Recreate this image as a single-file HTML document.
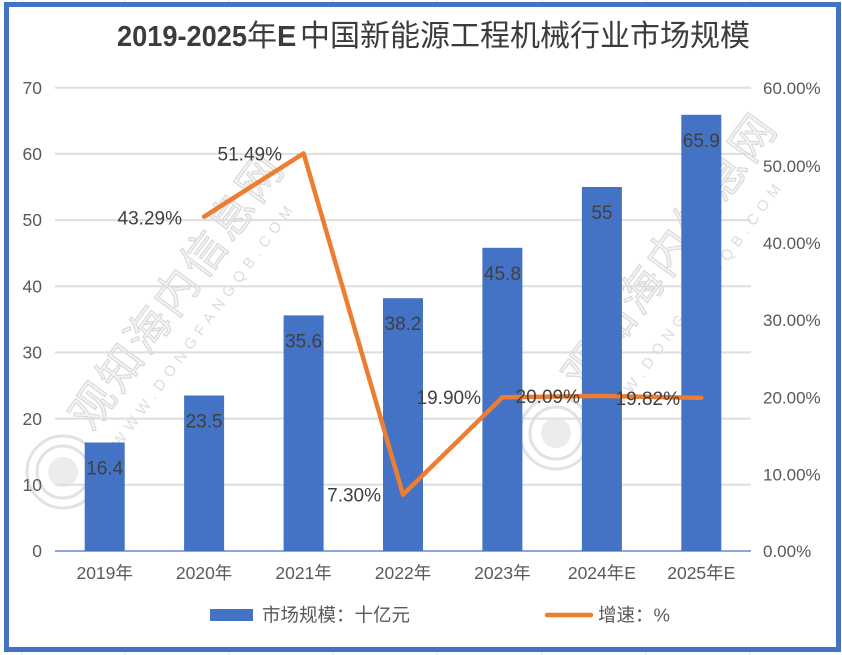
<!DOCTYPE html>
<html>
<head>
<meta charset="utf-8">
<style>
  html,body{margin:0;padding:0;background:#fff;}
  svg{display:block;}
  text{font-family:"Liberation Sans","Noto Sans CJK SC",sans-serif;}
</style>
</head>
<body>
<svg width="842" height="655" viewBox="0 0 842 655" xmlns="http://www.w3.org/2000/svg">
  <rect x="0" y="0" width="842" height="655" fill="#fff"/>
  <!-- faint spreadsheet gridlines outside border -->
  <g stroke="#e3e3e3" stroke-width="1">
    <line x1="22" y1="0" x2="22" y2="3"/><line x1="125" y1="0" x2="125" y2="3"/>
    <line x1="229" y1="0" x2="229" y2="3"/><line x1="333" y1="0" x2="333" y2="3"/>
    <line x1="437" y1="0" x2="437" y2="3"/><line x1="542" y1="0" x2="542" y2="3"/>
    <line x1="646" y1="0" x2="646" y2="3"/><line x1="750" y1="0" x2="750" y2="3"/>
    <line x1="22" y1="652" x2="22" y2="655"/><line x1="125" y1="652" x2="125" y2="655"/>
    <line x1="229" y1="652" x2="229" y2="655"/><line x1="333" y1="652" x2="333" y2="655"/>
    <line x1="437" y1="652" x2="437" y2="655"/><line x1="542" y1="652" x2="542" y2="655"/>
    <line x1="646" y1="652" x2="646" y2="655"/><line x1="750" y1="652" x2="750" y2="655"/>
  </g>
  <!-- border -->
  <rect x="6.5" y="4.5" width="832" height="645" fill="#fff" stroke="#4472C4" stroke-width="5"/>

  <!-- watermark 1 -->
  <g opacity="1">
    <g fill="none" stroke="#e2e2e2" stroke-width="3">
      <circle cx="63" cy="472" r="36"/>
      <circle cx="63" cy="472" r="26"/>
      <circle cx="63" cy="472" r="15" fill="#ececec" stroke="none"/>
    </g>
    <text x="180" y="293" font-size="44" fill="#f3f3f3" stroke="#d6d6d6" stroke-width="1" text-anchor="middle" dominant-baseline="middle" letter-spacing="3" transform="rotate(-53.8 180 293)">观知海内信息网</text>
    <text x="205" y="325" font-size="15" fill="#dcdcdc" text-anchor="middle" dominant-baseline="middle" letter-spacing="6" transform="rotate(-53.8 205 325)">WWW.DONGFANGQB.COM</text>
  </g>
  <!-- watermark 2 -->
  <g>
    <g fill="none" stroke="#e2e2e2" stroke-width="3">
      <circle cx="556" cy="433" r="36"/>
      <circle cx="556" cy="433" r="26"/>
      <circle cx="556" cy="433" r="15" fill="#ececec" stroke="none"/>
    </g>
    <text x="673" y="253" font-size="44" fill="#f3f3f3" stroke="#d6d6d6" stroke-width="1" text-anchor="middle" dominant-baseline="middle" letter-spacing="3" transform="rotate(-53.8 673 253)">观知海内信息网</text>
    <text x="693" y="303" font-size="15" fill="#dcdcdc" text-anchor="middle" dominant-baseline="middle" letter-spacing="6" transform="rotate(-53.8 693 303)">WWW.DONGFANGQB.COM</text>
  </g>

  <!-- title -->
  <text x="117" y="46" font-size="29" font-weight="bold" fill="#3c3c3c" textLength="130" lengthAdjust="spacingAndGlyphs">2019-2025</text>
  <text x="247" y="46" font-size="30" fill="#3c3c3c">年</text>
  <text x="277" y="46" font-size="29" font-weight="bold" fill="#3c3c3c">E</text>
  <text x="300" y="46" font-size="30" fill="#3c3c3c">中国新能源工程机械行业市场规模</text>

  <!-- gridlines -->
  <g stroke="#dedede" stroke-width="2">
    <line x1="55" y1="484.8" x2="751" y2="484.8"/>
    <line x1="55" y1="418.6" x2="751" y2="418.6"/>
    <line x1="55" y1="352.4" x2="751" y2="352.4"/>
    <line x1="55" y1="286.2" x2="751" y2="286.2"/>
    <line x1="55" y1="220.1" x2="751" y2="220.1"/>
    <line x1="55" y1="153.9" x2="751" y2="153.9"/>
    <line x1="55" y1="87.7" x2="751" y2="87.7"/>
  </g>

  <!-- left axis labels -->
  <g font-size="17.5" fill="#595959" text-anchor="end">
    <text x="42" y="557">0</text>
    <text x="42" y="491">10</text>
    <text x="42" y="425">20</text>
    <text x="42" y="358.5">30</text>
    <text x="42" y="292.5">40</text>
    <text x="42" y="226">50</text>
    <text x="42" y="160">60</text>
    <text x="42" y="94">70</text>
  </g>
  <!-- right axis labels -->
  <g font-size="17" fill="#595959">
    <text x="763" y="557">0.00%</text>
    <text x="763" y="480.5">10.00%</text>
    <text x="763" y="403.5">20.00%</text>
    <text x="763" y="326">30.00%</text>
    <text x="763" y="249">40.00%</text>
    <text x="763" y="172">50.00%</text>
    <text x="763" y="94">60.00%</text>
  </g>

  <!-- bars -->
  <g fill="#4472C4">
    <rect x="84.7" y="442.5" width="40" height="108.5"/>
    <rect x="184.1" y="395.5" width="40" height="155.5"/>
    <rect x="283.6" y="315.4" width="40" height="235.6"/>
    <rect x="383.0" y="298.2" width="40" height="252.8"/>
    <rect x="482.4" y="247.8" width="40" height="303.2"/>
    <rect x="581.9" y="187.0" width="40" height="364.0"/>
    <rect x="681.3" y="114.8" width="40" height="436.2"/>
  </g>
  <!-- baseline -->
  <line x1="55" y1="551" x2="751" y2="551" stroke="#4472C4" stroke-width="1.2"/>

  <!-- bar labels -->
  <g font-size="19" fill="#404040" text-anchor="middle">
    <text x="104.7" y="474.5">16.4</text>
    <text x="204.1" y="427.5">23.5</text>
    <text x="303.6" y="347.4">35.6</text>
    <text x="403.0" y="330.2">38.2</text>
    <text x="502.4" y="279.8">45.8</text>
    <text x="601.9" y="219">55</text>
    <text x="701.3" y="146.8">65.9</text>
  </g>

  <!-- growth line -->
  <polyline points="204.1,216.7 303.6,153.4 403.0,494.6 502.4,397.3 601.9,395.9 701.3,397.9" fill="none" stroke="#ED7D31" stroke-width="4.5" stroke-linejoin="round" stroke-linecap="round"/>

  <!-- line labels -->
  <g font-size="19" fill="#404040" text-anchor="end">
    <text x="182" y="224.5">43.29%</text>
    <text x="282" y="160.5">51.49%</text>
    <text x="381" y="501.5">7.30%</text>
    <text x="481" y="404">19.90%</text>
    <text x="580" y="403">20.09%</text>
    <text x="680" y="405">19.82%</text>
  </g>

  <!-- x labels -->
  <g font-size="17.5" fill="#595959" text-anchor="middle">
    <text x="104.7" y="579">2019年</text>
    <text x="204.1" y="579">2020年</text>
    <text x="303.6" y="579">2021年</text>
    <text x="403.0" y="579">2022年</text>
    <text x="502.4" y="579">2023年</text>
    <text x="601.9" y="579">2024年E</text>
    <text x="701.3" y="579">2025年E</text>
  </g>

  <!-- legend -->
  <rect x="210" y="609" width="43" height="12" fill="#4472C4"/>
  <text x="262" y="621.5" font-size="18.5" fill="#595959">市场规模：十亿元</text>
  <line x1="547" y1="615" x2="591" y2="615" stroke="#ED7D31" stroke-width="4.5" stroke-linecap="round"/>
  <text x="598" y="621.5" font-size="18.5" fill="#595959">增速：%</text>
</svg>
</body>
</html>
